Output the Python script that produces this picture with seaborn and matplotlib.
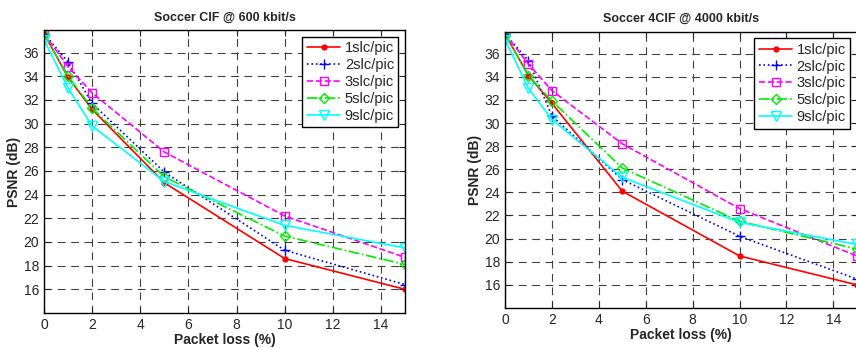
import numpy as np
import pandas as pd
import matplotlib
matplotlib.use("Agg")
import matplotlib.pyplot as plt
import seaborn as sns

loss = [0, 1, 2, 5, 10, 15]
labels = ["1slc/pic", "2slc/pic", "3slc/pic", "5slc/pic", "9slc/pic"]

# Soccer CIF @ 600 kbit/s
cif_1slc = [37.6, 33.9, 31.2, 25.0, 18.6, 16.0]
cif_2slc = [37.6, 35.2, 31.7, 25.9, 19.3, 16.4]
cif_3slc = [37.6, 34.8, 32.6, 27.6, 22.2, 18.7]
cif_5slc = [37.6, 34.0, 31.3, 25.5, 20.5, 18.1]
cif_9slc = [37.1, 33.0, 29.8, 25.1, 21.4, 19.5]

# Soccer 4CIF @ 4000 kbit/s
q4cif_1slc = [37.7, 34.1, 31.7, 24.1, 18.5, 16.0]
q4cif_2slc = [37.7, 35.4, 30.6, 25.1, 20.2, 16.5]
q4cif_3slc = [37.7, 35.1, 32.8, 28.2, 22.6, 18.5]
q4cif_5slc = [37.7, 34.1, 31.9, 26.1, 21.5, 19.1]
q4cif_9slc = [37.2, 33.0, 30.3, 25.3, 21.4, 19.5]

styles = [
    dict(color="#ff0000", linestyle="-", marker=".", markersize=7, mfc="#ff0000"),
    dict(color="#0000ff", linestyle=":", marker="+", markersize=7, mfc="#0000ff"),
    dict(color="#ff00ff", linestyle="--", marker="s", markersize=6, mfc="none"),
    dict(color="#00ee00", linestyle="-.", marker="D", markersize=5, mfc="none"),
    dict(color="#00ffff", linestyle="-", marker="v", markersize=7, mfc="none"),
]

sns.set_style("ticks")
plt.rcParams["font.family"] = ["Liberation Sans", "DejaVu Sans"]

fig = plt.figure(figsize=(8.56, 3.48), dpi=100)
ax1 = fig.add_axes([0.0514, 0.1006, 0.4217, 0.813])
ax2 = fig.add_axes([0.590, 0.115, 0.411, 0.794])


def draw(ax, series, title):
    for lab, ys, st in zip(labels, series, styles):
        df = pd.DataFrame({"loss": loss, "psnr": ys})
        sns.lineplot(data=df, x="loss", y="psnr", ax=ax, label=lab,
                     color=st["color"], linestyle=st["linestyle"],
                     marker=st["marker"], markersize=st["markersize"],
                     markerfacecolor=st["mfc"], markeredgecolor=st["color"],
                     markeredgewidth=1.0, linewidth=1.2)
    ax.set_xlim(0, 15)
    ax.set_ylim(14, 37.9)
    ax.set_xticks(range(0, 15, 2))
    ax.set_yticks(range(16, 37, 2))
    ax.grid(True, color="0.25", linestyle=(0, (7, 5)), linewidth=0.8)
    ax.set_axisbelow(True)
    ax.tick_params(direction="in", top=True, right=True, labelsize=10, length=4)
    for sp in ax.spines.values():
        sp.set_color("black")
        sp.set_linewidth(1.0)
    ax.set_title(title, fontsize=9, fontweight="bold", pad=7)
    ax.set_xlabel("Packet loss (%)", fontsize=10, fontweight="bold", labelpad=1)
    ax.set_ylabel("PSNR (dB)", fontsize=10, fontweight="bold", labelpad=2)
    leg = ax.legend(loc="upper right", fontsize=10.5, fancybox=False, framealpha=1,
                    edgecolor="black", borderpad=0.3, labelspacing=0.2,
                    handlelength=2.3, handletextpad=0.3, borderaxespad=0.45)
    leg.get_frame().set_linewidth(1.0)


draw(ax1, [cif_1slc, cif_2slc, cif_3slc, cif_5slc, cif_9slc], "Soccer CIF @ 600 kbit/s")
draw(ax2, [q4cif_1slc, q4cif_2slc, q4cif_3slc, q4cif_5slc, q4cif_9slc], "Soccer 4CIF @ 4000 kbit/s")

fig.savefig("out.png", dpi=100)
